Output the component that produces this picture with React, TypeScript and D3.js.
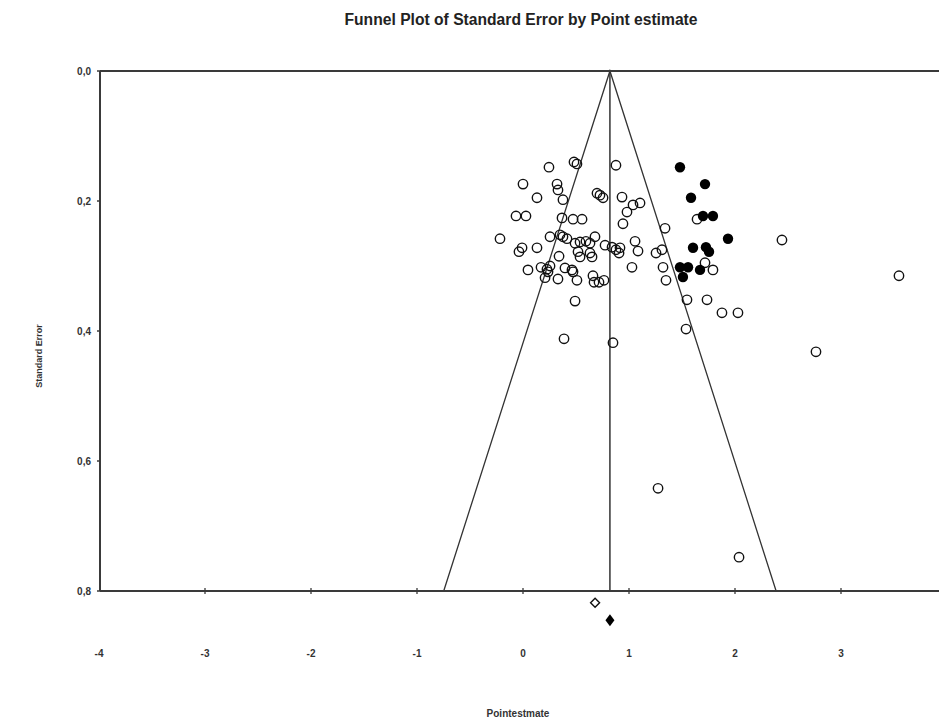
import React from "react";
import * as d3 from "d3";

const title = "Funnel Plot of Standard Error by Point estimate";
const xLabel = "Pointestmate";
const yLabel = "Standard Error";

const xTicks = [-4, -3, -2, -1, 0, 1, 2, 3];
const yTicks = [0, 0.2, 0.4, 0.6, 0.8];

// observed studies (open circles)
const observedX = [
  0.245, 0.481, 0.509, 0.877, 0.0, 0.321, 0.33, 0.132, 0.377, 0.698,
  0.726, 0.755, 0.934, 1.038, 1.104, 0.981, -0.066, 0.028, 0.368, 0.472,
  0.557, 0.943, 1.34, -0.217, 0.255, 0.349, 0.377, 0.415, 0.491, 0.538,
  0.594, 0.632, 0.679, 0.774, 0.84, 0.877, 0.915, 0.906, 1.057, 1.085,
  -0.009, -0.038, 0.132, 0.519, 0.538, 0.632, 0.651, 0.34, 1.255, 1.311,
  0.047, 0.17, 0.226, 0.255, 0.236, 0.208, 0.33, 0.396, 0.462, 0.472,
  0.509, 0.66, 0.67, 0.717, 0.764, 1.028, 1.321, 1.349, 1.642, 1.717,
  1.792, 2.443, 0.491, 1.547, 1.736, 1.877, 2.028, 1.538, 0.387, 0.849,
  3.547, 2.764, 1.274, 2.038,
];
const observedSE = [
  0.148, 0.14, 0.143, 0.145, 0.174, 0.174, 0.183, 0.195, 0.198, 0.188,
  0.191, 0.195, 0.194, 0.206, 0.203, 0.217, 0.223, 0.223, 0.226, 0.228,
  0.228, 0.235, 0.242, 0.258, 0.255, 0.252, 0.255, 0.258, 0.265, 0.263,
  0.262, 0.265, 0.255, 0.268, 0.271, 0.275, 0.272, 0.28, 0.262, 0.277,
  0.272, 0.278, 0.272, 0.278, 0.286, 0.28, 0.286, 0.285, 0.28, 0.275,
  0.306, 0.302, 0.305, 0.3, 0.309, 0.318, 0.32, 0.303, 0.306, 0.309,
  0.322, 0.315, 0.325, 0.325, 0.322, 0.302, 0.302, 0.322, 0.228, 0.295,
  0.306, 0.26, 0.354, 0.352, 0.352, 0.372, 0.372, 0.397, 0.412, 0.418,
  0.315, 0.432, 0.642, 0.748,
];

// imputed studies (filled circles)
const imputedX = [1.481, 1.717, 1.585, 1.698, 1.792, 1.934, 1.604, 1.726, 1.755, 1.481, 1.557, 1.509, 1.67];
const imputedSE = [0.148, 0.174, 0.195, 0.223, 0.223, 0.258, 0.272, 0.271, 0.278, 0.302, 0.302, 0.317, 0.306];

// combined estimates
const observedEstimate = 0.68;
const adjustedEstimate = 0.82;
const diamondRowSE = [0.818, 0.845];

export default function App() {
  const W = 939;
  const H = 723;
  const x = d3.scaleLinear().domain([-4, 4]).range([99, 947]);
  const y = d3.scaleLinear().domain([0, 0.8]).range([71, 591]);

  const maxSE = 0.8;
  const funnel = d3.line<[number, number]>()
    .x((d) => x(d[0]))
    .y((d) => y(d[1]))([
      [adjustedEstimate - 1.96 * maxSE, maxSE],
      [adjustedEstimate, 0],
      [adjustedEstimate + 1.96 * maxSE, maxSE],
    ]) as string;

  const narrow = "'Liberation Sans Narrow', 'Arial Narrow', 'Liberation Sans', Arial, sans-serif";
  const axisColor = "#3a3a3a";

  const diamond = (cx: number, cy: number, hw: number, hh: number) =>
    `M${cx},${cy - hh}L${cx + hw},${cy}L${cx},${cy + hh}L${cx - hw},${cy}Z`;

  return (
    <svg
      width={W}
      height={H}
      style={{ position: "absolute", left: 0, top: 0, display: "block", background: "#fff" }}
    >
      <rect x={0} y={0} width={W} height={H} fill="#fff" />
      <text
        x={521}
        y={25}
        textAnchor="middle"
        fontFamily={narrow}
        fontWeight="bold"
        fontSize={16}
        textLength={353}
        lengthAdjust="spacingAndGlyphs"
        fill="#222"
      >
        {title}
      </text>

      {/* funnel and center line */}
      <path d={funnel} fill="none" stroke="#333" strokeWidth={1.3} />
      <line
        x1={x(adjustedEstimate)}
        x2={x(adjustedEstimate)}
        y1={y(0)}
        y2={y(0.8)}
        stroke="#333"
        strokeWidth={1.5}
      />

      {/* frame */}
      <line x1={x(-4) + 1} x2={x(4)} y1={y(0)} y2={y(0)} stroke={axisColor} strokeWidth={2} />
      <line x1={x(-4) + 1} x2={x(4)} y1={y(0.8)} y2={y(0.8)} stroke={axisColor} strokeWidth={2} />
      <line x1={x(-4) + 1} x2={x(-4) + 1} y1={y(0)} y2={y(0.8)} stroke={axisColor} strokeWidth={2} />

      {/* y ticks */}
      {yTicks.map((t) => (
        <g key={"y" + t}>
          <line x1={x(-4) - 2} x2={x(-4) + 1} y1={y(t)} y2={y(t)} stroke={axisColor} strokeWidth={1.5} />
          <text
            x={91}
            y={y(t)}
            dy="0.35em"
            textAnchor="end"
            fontFamily={narrow}
            fontWeight="bold"
            fontSize={10}
            fill="#333"
          >
            {t.toFixed(1).replace(".", ",")}
          </text>
        </g>
      ))}

      {/* x ticks */}
      {xTicks.map((t) => (
        <g key={"x" + t}>
          {t > -4 && (
            <line x1={x(t)} x2={x(t)} y1={y(0.8) - 3} y2={y(0.8) + 3} stroke={axisColor} strokeWidth={1.3} />
          )}
          <text
            x={x(t)}
            y={657}
            textAnchor="middle"
            fontFamily={narrow}
            fontWeight="bold"
            fontSize={10}
            fill="#333"
          >
            {t}
          </text>
        </g>
      ))}

      {/* observed studies */}
      {observedX.map((v, i) => (
        <circle
          key={"o" + i}
          cx={x(v)}
          cy={y(observedSE[i])}
          r={4.7}
          fill="none"
          stroke="#111"
          strokeWidth={1.4}
        />
      ))}

      {/* imputed studies */}
      {imputedX.map((v, i) => (
        <circle key={"f" + i} cx={x(v)} cy={y(imputedSE[i])} r={5.2} fill="#000" />
      ))}

      {/* combined diamonds */}
      <path
        d={diamond(x(observedEstimate), y(diamondRowSE[0]), 4.5, 4.5)}
        fill="#fff"
        stroke="#111"
        strokeWidth={1.4}
      />
      <path d={diamond(x(adjustedEstimate), y(diamondRowSE[1]), 4.5, 6)} fill="#000" />

      {/* axis titles */}
      <text
        x={518}
        y={717}
        textAnchor="middle"
        fontFamily={narrow}
        fontWeight="bold"
        fontSize={10}
        fill="#333"
      >
        {xLabel}
      </text>
      <text
        transform={`translate(42,356) rotate(-90)`}
        textAnchor="middle"
        fontFamily={narrow}
        fontWeight="bold"
        fontSize={9}
        fill="#333"
      >
        {yLabel}
      </text>
    </svg>
  );
}
